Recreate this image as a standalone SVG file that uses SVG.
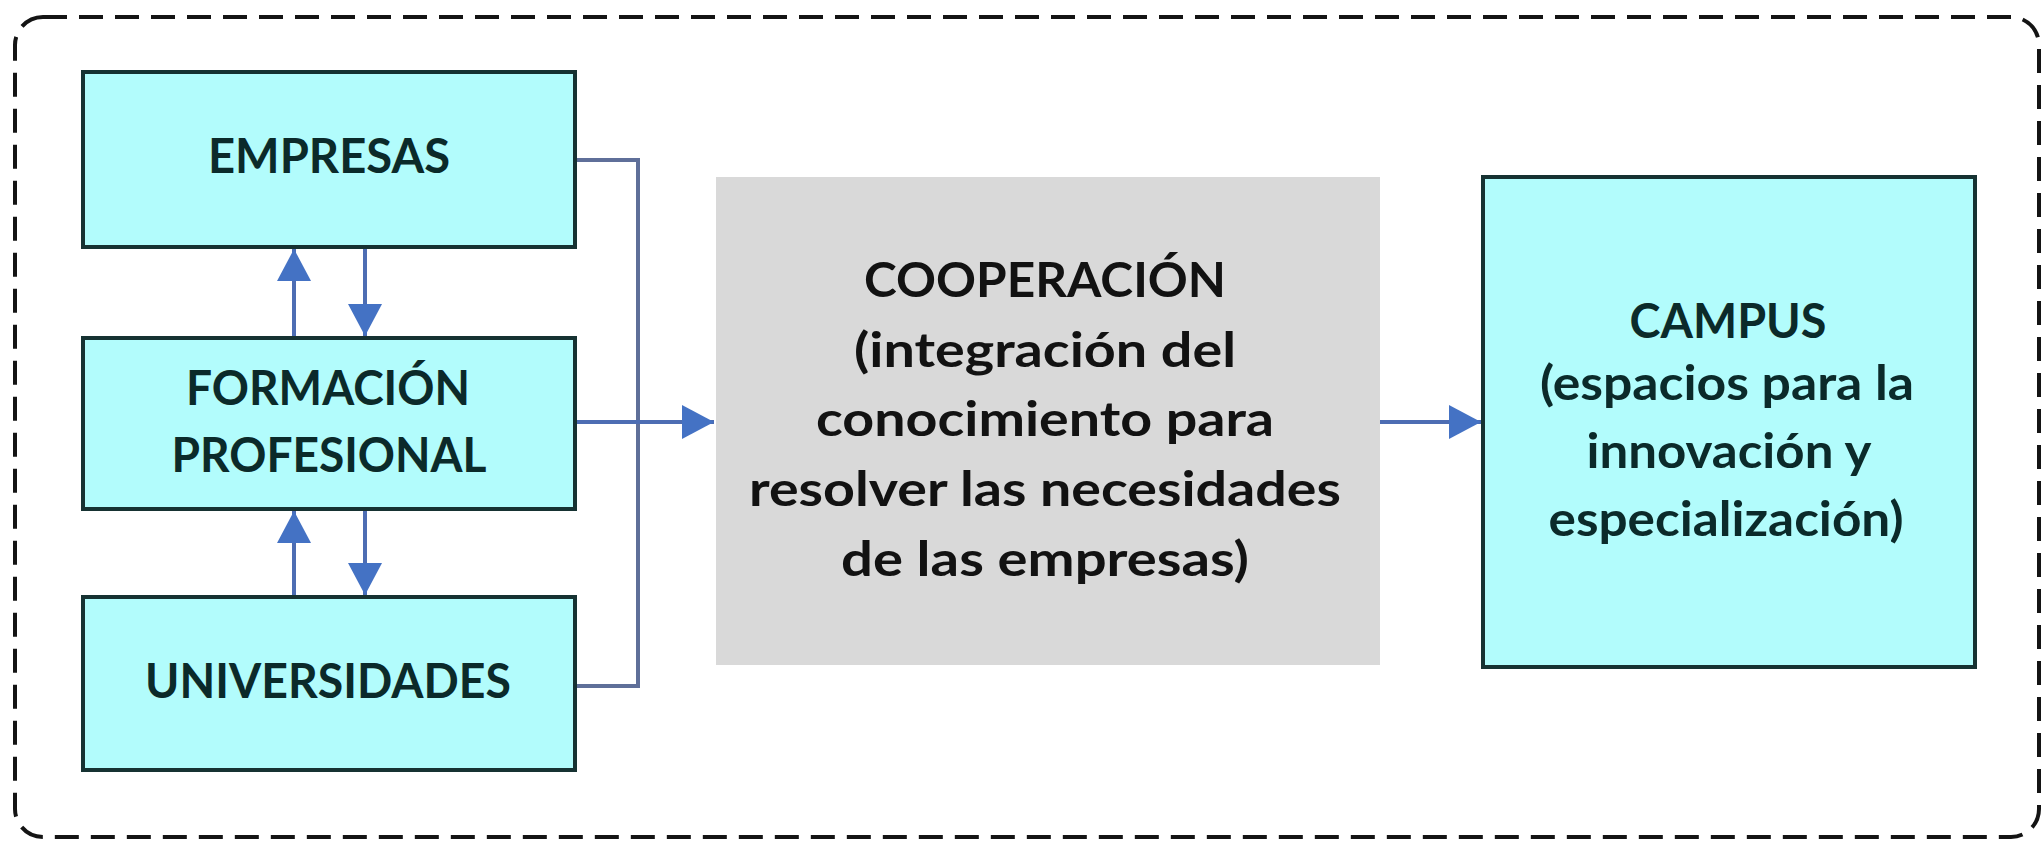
<svg xmlns="http://www.w3.org/2000/svg" width="2043" height="842" viewBox="0 0 2043 842">
<defs>
<style>
.frame{fill:none;stroke:#141414;stroke-width:4;stroke-dasharray:24 12}
.cyan{fill:#b2fcfc;stroke:#163232;stroke-width:4}
.gray{fill:#d9d9d9;stroke:none}
.t{font-family:Lato,"Open Sans","DejaVu Sans",sans-serif;font-weight:bold;font-size:47px;text-anchor:middle;fill:#0b2a2a}
.tc{fill:#121212}
.conn{fill:none;stroke:#5f6f99;stroke-width:4}
.arr{fill:none;stroke:#4d6db3;stroke-width:4}
</style>
<marker id="ah" markerUnits="userSpaceOnUse" markerWidth="34" markerHeight="34" refX="32" refY="17" orient="auto">
<path d="M0,0 L32,17 L0,34 Z" fill="#4472c4"/>
</marker>
</defs>
<rect class="frame" x="15" y="17" width="2024" height="820" rx="28"/>
<g id="connectors">
<path class="conn" d="M577,160 H638 V686 H577"/>
<line class="arr" x1="575" y1="422" x2="714" y2="422" marker-end="url(#ah)"/>
<line class="arr" x1="1374" y1="422" x2="1481" y2="422" marker-end="url(#ah)"/>
<line class="arr" x1="294" y1="336" x2="294" y2="249" marker-end="url(#ah)"/>
<line class="arr" x1="365" y1="249" x2="365" y2="336" marker-end="url(#ah)"/>
<line class="arr" x1="294" y1="595" x2="294" y2="511" marker-end="url(#ah)"/>
<line class="arr" x1="365" y1="511" x2="365" y2="595" marker-end="url(#ah)"/>
</g>
<g id="empresas">
<rect class="cyan" x="83" y="72" width="492" height="175"/>
<text class="t" x="329" y="173" textLength="242" lengthAdjust="spacingAndGlyphs">EMPRESAS</text>
</g>
<g id="formacion">
<rect class="cyan" x="83" y="338" width="492" height="171"/>
<text class="t" x="328" y="405" textLength="284" lengthAdjust="spacingAndGlyphs">FORMACIÓN</text>
<text class="t" x="329" y="472" textLength="315" lengthAdjust="spacingAndGlyphs">PROFESIONAL</text>
</g>
<g id="universidades">
<rect class="cyan" x="83" y="597" width="492" height="173"/>
<text class="t" x="328" y="698" textLength="366" lengthAdjust="spacingAndGlyphs">UNIVERSIDADES</text>
</g>
<g id="cooperacion">
<rect class="gray" x="716" y="177" width="664" height="488"/>
<text class="t tc" x="1045" y="297" textLength="362" lengthAdjust="spacingAndGlyphs">COOPERACIÓN</text>
<text class="t tc" x="1045" y="367" textLength="382" lengthAdjust="spacingAndGlyphs">(integración del</text>
<text class="t tc" x="1045" y="436" textLength="458" lengthAdjust="spacingAndGlyphs">conocimiento para</text>
<text class="t tc" x="1045" y="506" textLength="592" lengthAdjust="spacingAndGlyphs">resolver las necesidades</text>
<text class="t tc" x="1045" y="576" textLength="408" lengthAdjust="spacingAndGlyphs">de las empresas)</text>
</g>
<g id="campus">
<rect class="cyan" x="1483" y="177" width="492" height="490"/>
<text class="t" x="1728" y="338" textLength="197" lengthAdjust="spacingAndGlyphs">CAMPUS</text>
<text class="t" x="1727" y="400" textLength="374" lengthAdjust="spacingAndGlyphs">(espacios para la</text>
<text class="t" x="1729" y="468" textLength="285" lengthAdjust="spacingAndGlyphs">innovación y</text>
<text class="t" x="1726" y="536" textLength="355" lengthAdjust="spacingAndGlyphs">especialización)</text>
</g>
</svg>
